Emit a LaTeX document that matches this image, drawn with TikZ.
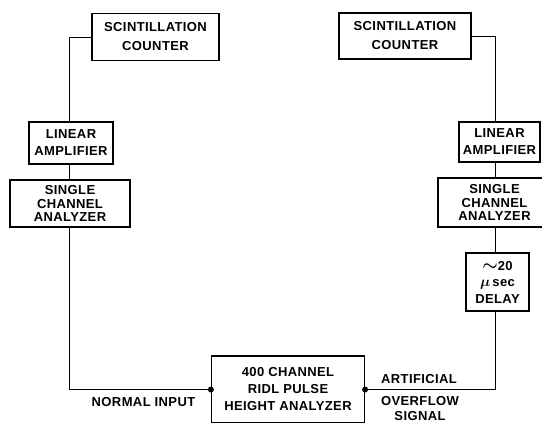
\documentclass[tikz,border=0pt]{standalone}
\usepackage{amsmath}
\usepackage{fontspec}
\newfontfamily\lettering[LetterSpace=3]{Liberation Sans}
\usetikzlibrary{positioning}

\begin{document}
\begin{tikzpicture}[x=1pt, y=-1pt,
  unit/.style={draw, line width=1.2pt, inner sep=0pt, align=center,
    font=\lettering\bfseries\fontsize{13}{15}\selectfont},
  wire/.style={line width=1pt},
  lbl/.style={inner sep=0pt, align=center,
    font=\lettering\bfseries\fontsize{13}{15}\selectfont}]

\useasboundingbox (0,0) rectangle (542,423);

% left chain
\node[unit, minimum width=127pt, minimum height=47pt,
  font=\lettering\bfseries\fontsize{13}{19}\selectfont] (sc1) at (155.5,37) {SCINTILLATION\\COUNTER};
\node[unit, minimum width=84pt, minimum height=42pt,
  font=\lettering\bfseries\fontsize{13}{17}\selectfont] (la1) at (71,143) {LINEAR\\AMPLIFIER};
\node[unit, minimum width=120pt, minimum height=47pt,
  font=\lettering\bfseries\fontsize{13}{13.5}\selectfont] (sca1) at (70,203.5) {SINGLE\\CHANNEL\\ANALYZER};

% right chain
\node[unit, minimum width=132pt, minimum height=46pt,
  font=\lettering\bfseries\fontsize{13}{19}\selectfont] (sc2) at (405,36) {SCINTILLATION\\COUNTER};
\node[unit, minimum width=81pt, minimum height=40pt,
  font=\lettering\bfseries\fontsize{13}{17}\selectfont] (la2) at (499.5,142) {LINEAR\\AMPLIFIER};
\node[unit, minimum width=113pt, minimum height=49pt,
  font=\lettering\bfseries\fontsize{13}{13.5}\selectfont] (sca2) at (494.5,202.5) {SINGLE\\CHANNEL\\ANALYZER};
\node[unit, minimum width=63pt, minimum height=58pt,
  font=\lettering\bfseries\fontsize{13}{16.5}\selectfont] (delay) at (497.5,282)
  {{\fontsize{17}{16.5}\selectfont$\boldsymbol{\sim}$}20\\{\fontsize{15}{16.5}\selectfont$\boldsymbol{\mu}$}\,sec\\DELAY};

% analyzer
\node[unit, minimum width=153pt, minimum height=67pt,
  font=\lettering\bfseries\fontsize{13}{17}\selectfont] (pha) at (288,389.5) {400 CHANNEL\\RIDL PULSE\\HEIGHT ANALYZER};

\coordinate (lbus) at (69,0);
\coordinate (rbus) at (495,0);

\draw[wire] (sc1.west) -| (lbus |- la1.north);
\draw[wire] (lbus |- la1.south) -- (lbus |- sca1.north);
\draw[wire] (lbus |- sca1.south) |- (pha.west);
\fill (pha.west) circle (3);

\draw[wire] (sc2.east) -| (rbus |- la2.north);
\draw[wire] (rbus |- la2.south) -- (rbus |- sca2.north);
\draw[wire] (rbus |- sca2.south) -- (rbus |- delay.north);
\draw[wire] (rbus |- delay.south) |- (pha.east);
\fill (pha.east) circle (3);

\node[lbl] (normal) at (143.5,402) {NORMAL INPUT};
\node[lbl] (artif) at (419,379) {ARTIFICIAL};
\node[lbl] (ovf) at (420,409) {OVERFLOW\\SIGNAL};

\end{tikzpicture}
\end{document}
